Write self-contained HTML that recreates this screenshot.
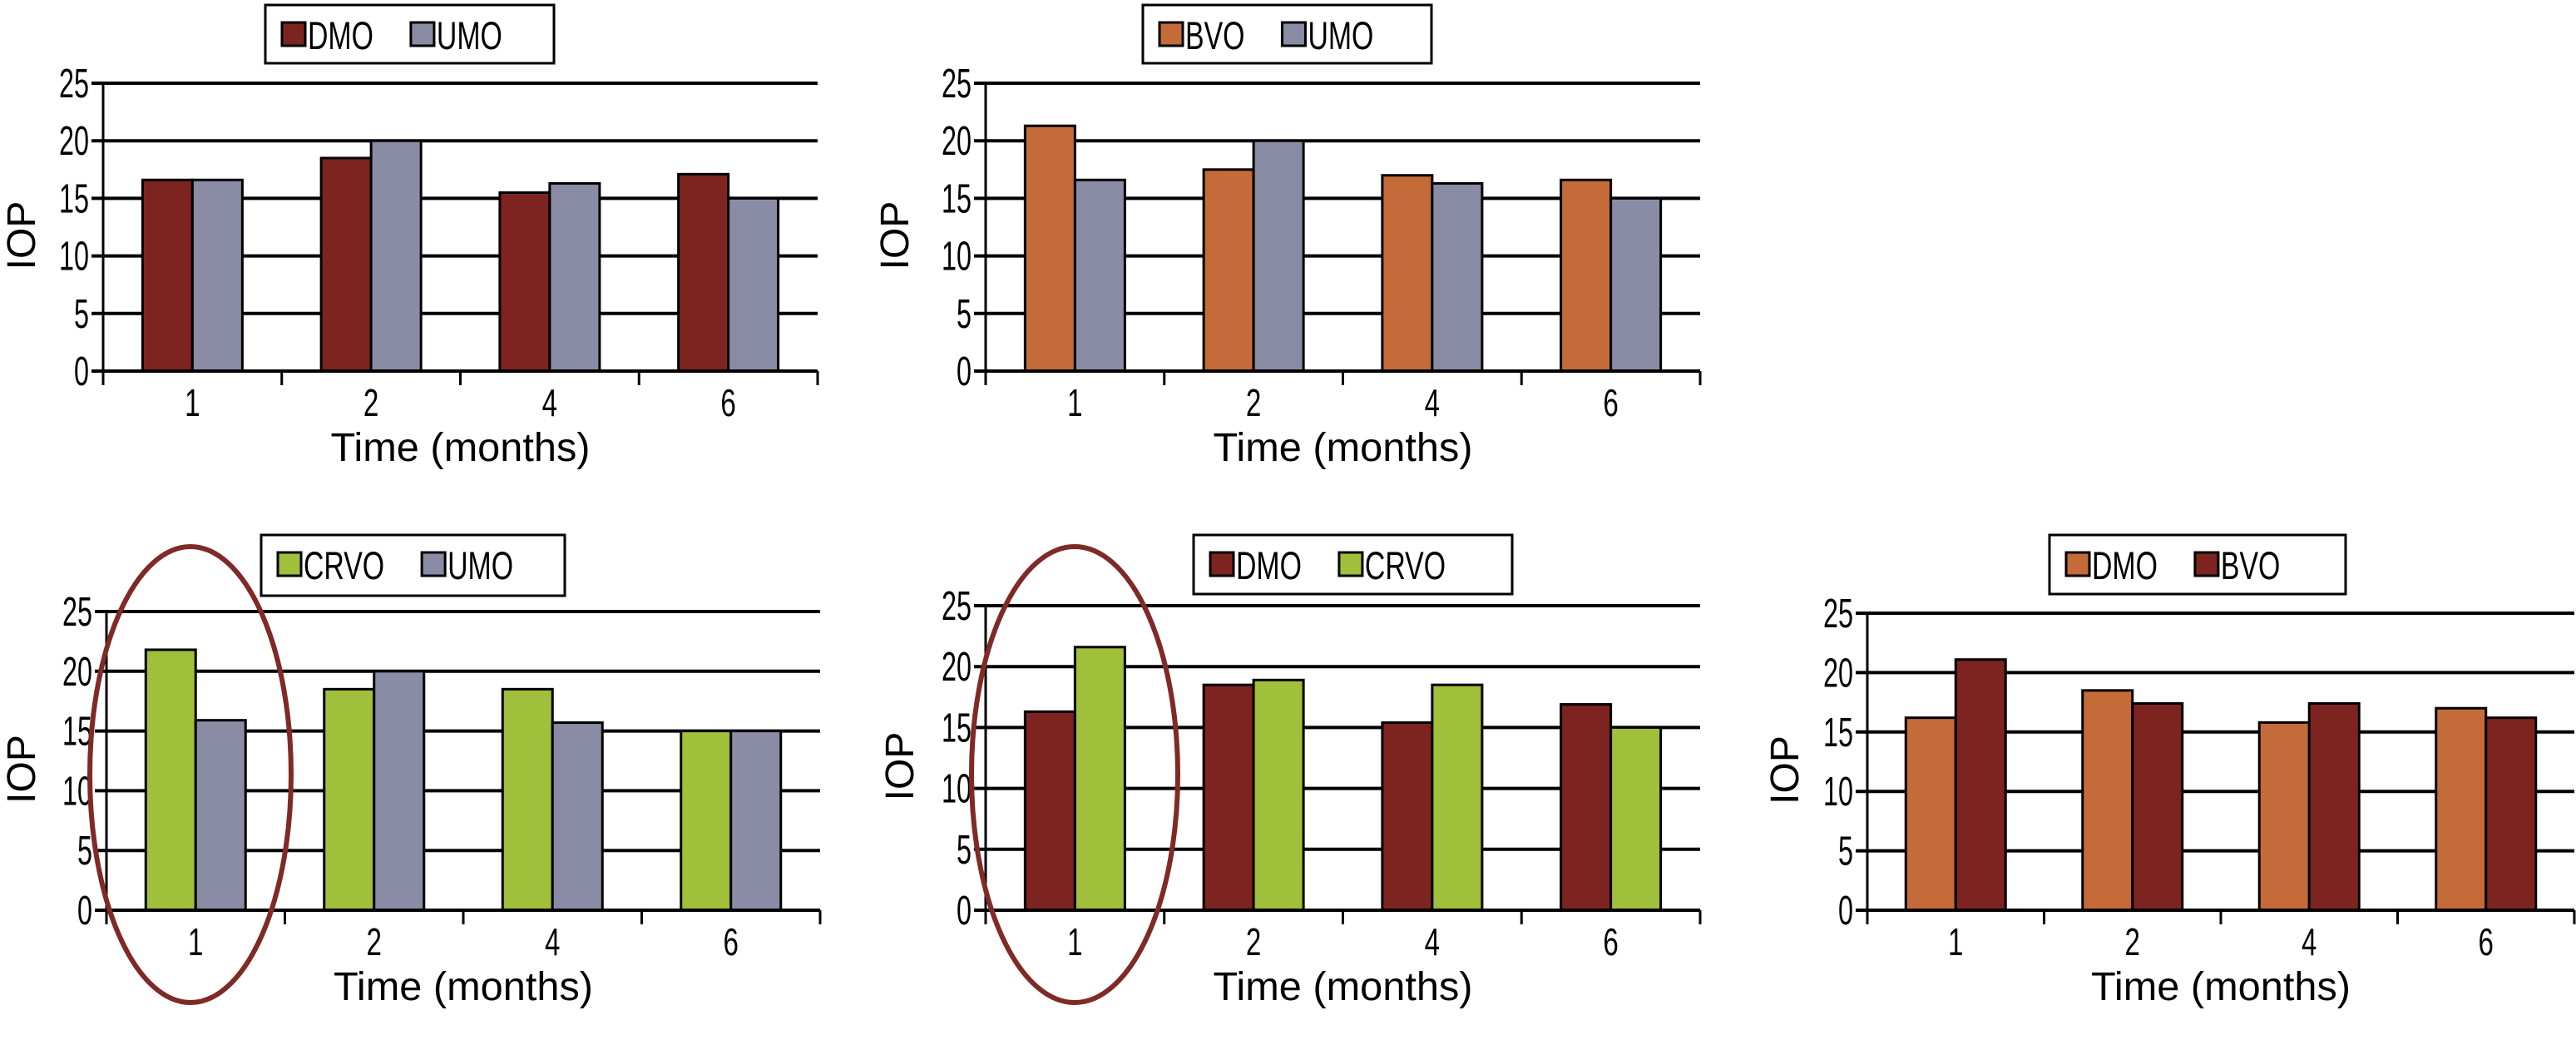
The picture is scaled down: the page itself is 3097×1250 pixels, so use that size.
<!DOCTYPE html>
<html><head><meta charset="utf-8"><style>
html,body{margin:0;padding:0;background:#fff;}
svg{display:block;}
text{font-family:"Liberation Sans",sans-serif;fill:#000;}
</style></head><body>
<svg id="fig" width="3097" height="1250" viewBox="0 0 3097 1250" xmlns="http://www.w3.org/2000/svg"></svg>
<script>
const categories = ["1","2","4","6"];
const yTicks = [0,5,10,15,20,25];
// Chart A: DMO vs UMO
const aNames = ["DMO","UMO"];
const aDMO = [16.6,18.5,15.5,17.1];
const aUMO = [16.6,20.0,16.3,15.0];
// Chart B: BVO vs UMO
const bNames = ["BVO","UMO"];
const bBVO = [21.3,17.5,17.0,16.6];
const bUMO = [16.6,20.0,16.3,15.0];
// Chart C: CRVO vs UMO
const cNames = ["CRVO","UMO"];
const cCRVO = [21.8,18.5,18.5,15.0];
const cUMO = [15.9,20.0,15.7,15.0];
// Chart D: DMO vs CRVO
const dNames = ["DMO","CRVO"];
const dDMO = [16.3,18.5,15.4,16.9];
const dCRVO = [21.6,18.9,18.5,15.0];
// Chart E: DMO vs BVO
const eNames = ["DMO","BVO"];
const eDMO = [16.2,18.5,15.8,17.0];
const eBVO = [21.1,17.4,17.4,16.2];

const COL = {maroon:"#7d2420", gray:"#8a8ba5", orange:"#c56a39", green:"#a0bf3a"};
const NS = "http://www.w3.org/2000/svg";
const svg = document.getElementById('fig');
function mk(tag, attrs, parent){
  const e = document.createElementNS(NS, tag);
  for (const k in attrs) e.setAttribute(k, attrs[k]);
  (parent||svg).appendChild(e);
  return e;
}
function ntext(parent, x, y, str, size, anchor, sx){
  const t = mk('text', {x:0, y:0, 'font-size':size, 'text-anchor':anchor,
    transform:'translate('+x+' '+y+') scale('+sx+' 1)'}, parent);
  t.textContent = str;
  return t;
}

function chart(cfg){
  const g = mk('g', {});
  
  
  const L = cfg.left, R = cfg.right, T = cfg.y25, B = cfg.y0;
  const yScale = v => B - (v/25)*(B-T);
  const cw = (R-L)/categories.length;
  const xBand = i => L + cw*i + cw/2;
  const bw = 60;
  yTicks.forEach(t => {
    const ln = mk('line', {x1:L-14, x2:R, y1:yScale(t), y2:yScale(t), stroke:'#000', 'stroke-width':4}, g);
    
    
    const tx = ntext(g, L-17, yScale(t)+17, String(t), 49, 'end', 0.66);
    
    
  });
  cfg.series.forEach((vals, s) => {
    vals.forEach((v, i) => {
      const x = xBand(i) - bw + s*bw;
      const r = mk('rect', {x:x, y:yScale(v), width:bw, height:B-yScale(v), fill:cfg.colors[s], stroke:'#000', 'stroke-width':3}, g);
      
      
    });
  });
  const ya = mk('line', {x1:L, x2:L, y1:T-2, y2:B+17, stroke:'#000', 'stroke-width':3}, g);
  
  
  const xa = mk('line', {x1:L, x2:R, y1:B, y2:B, stroke:'#000', 'stroke-width':4}, g);
  
  
  for (let i=0;i<=categories.length;i++){
    const tk = mk('line', {x1:L+cw*i, x2:L+cw*i, y1:B, y2:B+17, stroke:'#000', 'stroke-width':3}, g);
    
    
  }
  categories.forEach((c,i) => {
    const tx = ntext(g, xBand(i), B+54, c, 46, 'middle', 0.72);
    
    
  });
  const xt = mk('text', {x:(L+R)/2, y:B+108, 'text-anchor':'middle', 'font-size':48, textLength:312, lengthAdjust:'spacingAndGlyphs'}, g);
  xt.textContent = 'Time (months)';
  
  
  const yc = (T+B)/2 + 10;
  const yt = mk('text', {x:cfg.iopX, y:yc, 'text-anchor':'middle', 'font-size':48, transform:'rotate(-90 '+cfg.iopX+' '+yc+')', dy:17}, g);
  yt.textContent = 'IOP';
  
  
  const lg = mk('g', {}, g);
  
  
  const box = mk('rect', {x:cfg.leg[0], y:cfg.leg[1], width:cfg.leg[2]-cfg.leg[0], height:cfg.leg[3]-cfg.leg[1], fill:'#fff', stroke:'#000', 'stroke-width':3}, lg);
  
  
  let cx = cfg.leg[0] + 20;
  const top = cfg.leg[1];
  cfg.names.forEach((n, s) => {
    const sw = mk('rect', {x:cx, y:top+21, width:28, height:28, fill:cfg.colors[s], stroke:'#000', 'stroke-width':3}, lg);
    
    
    const t = ntext(lg, cx+31, top+53, n, 47, 'start', 0.72);
    
    
    cx += 31 + t.getComputedTextLength()*0.72 + 45;
  });
  if (cfg.ellipse){
    const el = mk('ellipse', {cx:cfg.ellipse[0], cy:cfg.ellipse[1], rx:cfg.ellipse[2], ry:cfg.ellipse[3], fill:'none', stroke:'#7f2a26', 'stroke-width':6}, g);
    
    
  }
}

chart({name:'chart-dmo-umo', left:124, right:983, y25:100, y0:446, iopX:25, leg:[319,6,666,76],
  names:aNames, series:[aDMO,aUMO], colors:[COL.maroon,COL.gray]});
chart({name:'chart-bvo-umo', left:1185, right:2044, y25:100, y0:446, iopX:1075, leg:[1374,6,1721,76],
  names:bNames, series:[bBVO,bUMO], colors:[COL.orange,COL.gray]});
chart({name:'chart-crvo-umo', left:128, right:986, y25:735, y0:1094, iopX:25, leg:[314,643,679,716],
  names:cNames, series:[cCRVO,cUMO], colors:[COL.green,COL.gray], ellipse:[229,931,121,274]});
chart({name:'chart-dmo-crvo', left:1185, right:2044, y25:728, y0:1094, iopX:1081, leg:[1435,643,1818,714],
  names:dNames, series:[dDMO,dCRVO], colors:[COL.maroon,COL.green], ellipse:[1292,931,124,274]});
chart({name:'chart-dmo-bvo', left:2245, right:3095, y25:737, y0:1094, iopX:2145, leg:[2464,643,2820,714],
  names:eNames, series:[eDMO,eBVO], colors:[COL.orange,COL.maroon]});
</script>
</body></html>
